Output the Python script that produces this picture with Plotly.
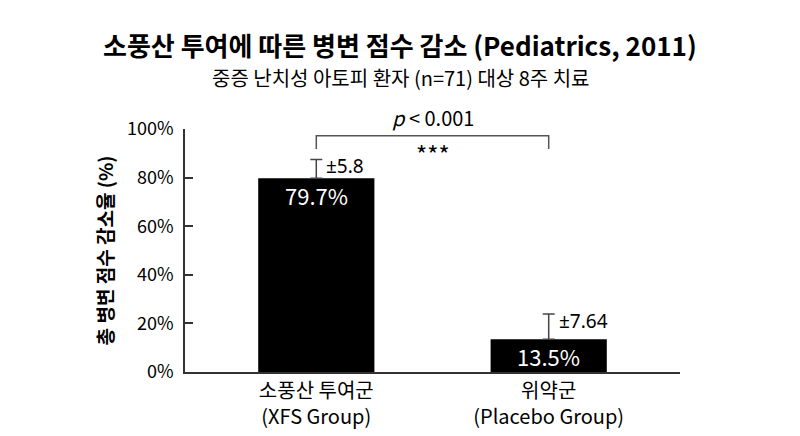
import plotly.graph_objects as go

# 데이터
groups = ["소풍산 투여군<br>(XFS Group)", "위약군<br>(Placebo Group)"]
reduction = [79.7, 13.5]
err_labels = ["±5.8", "±7.64"]
# 그림에 그려진 에러바 길이 (라벨 값보다 조금 길게 그려져 있음)
err_drawn = [7.8, 10.4]
ytick_vals = [0, 20, 40, 60, 80, 100]
ytick_text = ["0%", "20%", "40%", "60%", "80%", "100%"]

FONT = "Noto Sans CJK KR"
LATIN = "Noto Sans"
AXIS_COLOR = "#333333"

x_pos = [0, 1]

fig = go.Figure()

fig.add_trace(go.Bar(
    x=x_pos,
    y=reduction,
    width=0.5,
    marker=dict(color="black", line=dict(width=0)),
    error_y=dict(type="data", symmetric=False, array=err_drawn,
                 arrayminus=[0, 0], color="#444444", thickness=1.5, width=6),
    hoverinfo="skip",
))

# 막대 안 값 라벨
for x, v in zip(x_pos, reduction):
    fig.add_annotation(x=x, y=v, text=f"{v}%", showarrow=False,
                       yanchor="top", yshift=1,
                       font=dict(family=FONT, size=22, color="white"))

# 에러 라벨
for x, v, e, lab in zip(x_pos, reduction, err_drawn, err_labels):
    fig.add_annotation(x=x, y=v + e, text=lab, showarrow=False,
                       xanchor="left", yanchor="middle", xshift=8, yshift=-7,
                       font=dict(family=LATIN, size=19, color="black"))

# 유의성 브래킷
br_lo, br_hi = 91.8, 97.2
fig.add_shape(type="path",
              path=f"M 0,{br_lo} L 0,{br_hi} L 1,{br_hi} L 1,{br_lo}",
              xref="x", yref="y", line=dict(color="#555555", width=1.5))
fig.add_annotation(x=0.5, y=br_hi, text="<i>p</i> < 0.001", showarrow=False,
                   yanchor="bottom", yshift=2,
                   font=dict(family=FONT, size=20, color="black"))
fig.add_annotation(x=0.5, y=br_hi, text="***", showarrow=False,
                   yanchor="top", yshift=2,
                   font=dict(family=FONT, size=24, color="black"))

# 제목, 부제목 (그림 가운데 x=400px)
title_x = (400 - 185) / 495
fig.add_annotation(x=title_x, y=1, xref="paper", yref="paper", yanchor="middle",
                   yshift=85,
                   text="<b>소풍산 투여에 따른 병변 점수 감소 (Pediatrics, 2011)</b>",
                   showarrow=False, font=dict(family=FONT, size=26, color="black"))
fig.add_annotation(x=title_x, y=1, xref="paper", yref="paper", yanchor="middle",
                   yshift=52,
                   text="중증 난치성 아토피 환자 (n=71) 대상 8주 치료",
                   showarrow=False, font=dict(family=FONT, size=20, color="black"))

# 페이지 body 여백(8px) 보정
fig.update_layout(
    width=792, height=428,
    margin=dict(l=177, r=120, t=121, b=64, autoexpand=False),
    paper_bgcolor="white", plot_bgcolor="white",
    showlegend=False,
    font=dict(family=FONT, color="black"),
)

fig.update_xaxes(
    range=[-0.565, 1.565],
    tickvals=x_pos, ticktext=groups,
    tickfont=dict(family=FONT, size=20, color="black"),
    showline=True, linecolor=AXIS_COLOR, linewidth=1.5,
    ticks="", showgrid=False, zeroline=False,
)
fig.update_yaxes(
    range=[0, 100],
    tickvals=ytick_vals, ticktext=ytick_text,
    tickfont=dict(family=FONT, size=18, color="black"),
    ticks="inside", ticklen=8, tickwidth=1.5, tickcolor=AXIS_COLOR,
    ticklabelstandoff=6,
    showline=True, linecolor=AXIS_COLOR, linewidth=1.5,
    showgrid=False, zeroline=False,
    title=dict(text="<b>총 병변 점수 감소율 (%)</b>", standoff=8,
               font=dict(family=FONT, size=19, color="black")),
)

fig.write_html("out.html")
